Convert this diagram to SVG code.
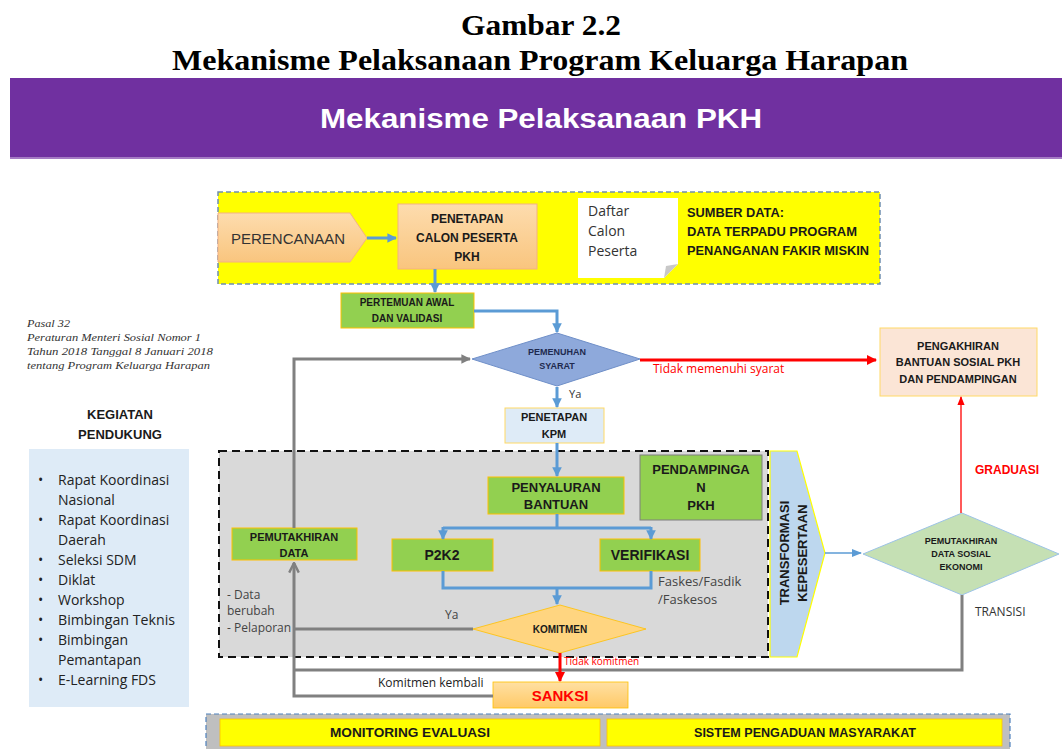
<svg xmlns="http://www.w3.org/2000/svg" width="1062" height="749" viewBox="0 0 1062 749">
<defs>
<style>
.t{font-family:"Liberation Sans",Arial,sans-serif;}
.b{font-family:"Liberation Sans",Arial,sans-serif;font-weight:bold;fill:#1a1a1a;}
.n{font-family:"Open Sans","Liberation Sans",sans-serif;fill:#333;}
.it{font-family:"Liberation Serif",serif;font-style:italic;font-size:11px;fill:#333;}
.red{fill:#FF0000;}
.green{fill:#92D050;stroke:#FFC000;stroke-width:1;}
.blue{stroke:#5B9BD5;stroke-width:3;fill:none;}
.grey{stroke:#808080;stroke-width:3;fill:none;}
</style>
<marker id="ab" viewBox="0 0 10 10" refX="9" refY="5" markerWidth="3.2" markerHeight="3.2" orient="auto"><path d="M0,0 L10,5 L0,10 z" fill="#5B9BD5"/></marker>
<marker id="abt" viewBox="0 0 10 10" refX="9" refY="5" markerWidth="8" markerHeight="8" orient="auto"><path d="M0,1 L10,5 L0,9 z" fill="#5B9BD5"/></marker>
<marker id="ag" viewBox="0 0 10 10" refX="9" refY="5" markerWidth="3.2" markerHeight="3.2" orient="auto"><path d="M0,0 L10,5 L0,10 z" fill="#808080"/></marker>
<marker id="ago" viewBox="0 0 10 10" refX="9" refY="5" markerWidth="4" markerHeight="4" orient="auto"><path d="M1,1 L9,5 L1,9" fill="none" stroke="#808080" stroke-width="2"/></marker>
<marker id="ar" viewBox="0 0 10 10" refX="9" refY="5" markerWidth="3.4" markerHeight="3.4" orient="auto"><path d="M0,0 L10,5 L0,10 z" fill="#FF0000"/></marker>
<marker id="art" viewBox="0 0 10 10" refX="9" refY="5" markerWidth="7" markerHeight="7" orient="auto"><path d="M0,1 L10,5 L0,9 z" fill="#FF0000"/></marker>
<linearGradient id="og" x1="0" y1="0" x2="0" y2="1"><stop offset="0" stop-color="#FDDCAE"/><stop offset="1" stop-color="#F9C57E"/></linearGradient>
<linearGradient id="sg" x1="0" y1="0" x2="0" y2="1"><stop offset="0" stop-color="#FFE0A3"/><stop offset="1" stop-color="#FFC966"/></linearGradient>
</defs>
<rect width="1062" height="749" fill="#fff"/>

<g id="title">
<text x="541" y="35" text-anchor="middle" font-family="Liberation Serif,serif" font-weight="bold" font-size="30" fill="#000" textLength="160" lengthAdjust="spacingAndGlyphs">Gambar 2.2</text>
<text x="540" y="70" text-anchor="middle" font-family="Liberation Serif,serif" font-weight="bold" font-size="29" fill="#000" textLength="736" lengthAdjust="spacingAndGlyphs">Mekanisme Pelaksanaan Program Keluarga Harapan</text>
</g>
<g id="banner">
<rect x="10" y="78" width="1052" height="80" fill="#7030A0"/>
<rect x="10" y="157" width="1052" height="2" fill="#A57BC4"/>
<text x="541" y="128" text-anchor="middle" class="t" font-weight="bold" font-size="27" fill="#fff" textLength="442" lengthAdjust="spacingAndGlyphs">Mekanisme Pelaksanaan PKH</text>
</g>

<g id="sumber-area">
<rect x="218" y="192" width="662" height="92" fill="#FFFF00" stroke="#6F8FB0" stroke-width="1.5" stroke-dasharray="5,3"/>
</g>
<g id="perencanaan">
<path d="M218,213 L350,213 L367,238 L350,262 L218,262 z" fill="url(#og)" stroke="#F4B183" stroke-width="1"/>
<text x="231" y="244" class="t" font-size="15" fill="#333">PERENCANAAN</text>
</g>
<g id="penetapan-calon">
<rect x="398" y="204" width="139" height="65" fill="url(#og)" stroke="#F4B183"/>
<text x="467" y="223" text-anchor="middle" class="b" font-size="12">PENETAPAN</text>
<text x="467" y="242" text-anchor="middle" class="b" font-size="12">CALON PESERTA</text>
<text x="467" y="261" text-anchor="middle" class="b" font-size="12">PKH</text>
</g>
<g id="daftar">
<path d="M578,198 L678,198 L678,264 L664,278 L578,278 z" fill="#fff"/>
<path d="M678,264 L664,278 L666,266 z" fill="#C8C8C8"/>
<text x="588" y="216" class="n" font-size="14">Daftar</text>
<text x="588" y="236" class="n" font-size="14">Calon</text>
<text x="588" y="256" class="n" font-size="14">Peserta</text>
</g>
<g id="sumber-data">
<text x="687" y="217" class="b" font-size="12.5" textLength="97" lengthAdjust="spacingAndGlyphs">SUMBER DATA:</text>
<text x="687" y="236" class="b" font-size="12.5" textLength="170" lengthAdjust="spacingAndGlyphs">DATA TERPADU PROGRAM</text>
<text x="687" y="255" class="b" font-size="12.5" textLength="182" lengthAdjust="spacingAndGlyphs">PENANGANAN FAKIR MISKIN</text>
</g>

<g id="pertemuan">
<rect x="341" y="293" width="133" height="35" class="green"/>
<text x="407" y="306" text-anchor="middle" class="b" font-size="10">PERTEMUAN AWAL</text>
<text x="407" y="322" text-anchor="middle" class="b" font-size="10">DAN VALIDASI</text>
</g>
<g id="pemenuhan">
<path d="M557,333 L640,359 L557,386 L472,359 z" fill="#8EA9DB" stroke="#6F8FC8"/>
<text x="557" y="355" text-anchor="middle" class="b" font-size="9" style="fill:#1F2A4F">PEMENUHAN</text>
<text x="557" y="369" text-anchor="middle" class="b" font-size="9" style="fill:#1F2A4F">SYARAT</text>
</g>
<g id="pengakhiran">
<rect x="880" y="328" width="157" height="68" fill="#FBE5D6" stroke="#FFD966"/>
<text x="958" y="350" text-anchor="middle" class="b" font-size="11">PENGAKHIRAN</text>
<text x="958" y="366" text-anchor="middle" class="b" font-size="11">BANTUAN SOSIAL PKH</text>
<text x="958" y="383" text-anchor="middle" class="b" font-size="11">DAN PENDAMPINGAN</text>
</g>
<g id="penetapan-kpm">
<rect x="505" y="408" width="99" height="35" fill="#DEEBF7" stroke="#FFD966"/>
<text x="554" y="421" text-anchor="middle" class="b" font-size="11">PENETAPAN</text>
<text x="554" y="438" text-anchor="middle" class="b" font-size="11">KPM</text>
</g>

<g id="kegiatan">
<text x="27" y="327" class="it" textLength="43" lengthAdjust="spacingAndGlyphs">Pasal 32</text>
<text x="27" y="341" class="it" textLength="174" lengthAdjust="spacingAndGlyphs">Peraturan  Menteri Sosial Nomor 1</text>
<text x="27" y="355" class="it" textLength="186" lengthAdjust="spacingAndGlyphs">Tahun 2018 Tanggal  8 Januari 2018</text>
<text x="27" y="369" class="it" textLength="183" lengthAdjust="spacingAndGlyphs">tentang Program  Keluarga  Harapan</text>
<text x="120" y="419" text-anchor="middle" class="b" font-size="13">KEGIATAN</text>
<text x="120" y="439" text-anchor="middle" class="b" font-size="13">PENDUKUNG</text>
<rect x="29" y="449" width="160" height="258" fill="#DEEBF7"/>
<g class="n" font-size="14" style="fill:#222">
<text x="38" y="485">•</text><text x="58" y="485">Rapat Koordinasi</text>
<text x="58" y="505">Nasional</text>
<text x="38" y="525">•</text><text x="58" y="525">Rapat Koordinasi</text>
<text x="58" y="545">Daerah</text>
<text x="38" y="565">•</text><text x="58" y="565">Seleksi SDM</text>
<text x="38" y="585">•</text><text x="58" y="585">Diklat</text>
<text x="38" y="605">•</text><text x="58" y="605">Workshop</text>
<text x="38" y="625">•</text><text x="58" y="625" textLength="117" lengthAdjust="spacingAndGlyphs">Bimbingan Teknis</text>
<text x="38" y="645">•</text><text x="58" y="645">Bimbingan</text>
<text x="58" y="665">Pemantapan</text>
<text x="38" y="685">•</text><text x="58" y="685">E-Learning FDS</text>
</g>
</g>

<g id="proses-area">
<rect x="219" y="451" width="549" height="206" fill="#D9D9D9" stroke="#111" stroke-width="2" stroke-dasharray="8,5"/>
</g>
<g id="penyaluran">
<rect x="488" y="477" width="136" height="37" class="green"/>
<text x="556" y="492" text-anchor="middle" class="b" font-size="13">PENYALURAN</text>
<text x="556" y="509" text-anchor="middle" class="b" font-size="13">BANTUAN</text>
</g>
<g id="pendampingan">
<rect x="640" y="455" width="122" height="65" fill="#92D050" stroke="#7F7F7F"/>
<text x="701" y="474" text-anchor="middle" class="b" font-size="13">PENDAMPINGA</text>
<text x="701" y="492" text-anchor="middle" class="b" font-size="13">N</text>
<text x="701" y="510" text-anchor="middle" class="b" font-size="13">PKH</text>
</g>
<g id="p2k2">
<rect x="392" y="539" width="101" height="32" class="green"/>
<text x="442" y="560" text-anchor="middle" class="b" font-size="14">P2K2</text>
</g>
<g id="verifikasi">
<rect x="600" y="539" width="100" height="32" class="green"/>
<text x="650" y="560" text-anchor="middle" class="b" font-size="14">VERIFIKASI</text>
</g>
<g id="pemutakhiran-data">
<rect x="232" y="528" width="125" height="32" class="green"/>
<text x="294" y="541" text-anchor="middle" class="b" font-size="11">PEMUTAKHIRAN</text>
<text x="294" y="557" text-anchor="middle" class="b" font-size="11">DATA</text>
</g>
<g id="komitmen">
<path d="M560,605 L646,629 L560,653 L473,629 z" fill="#FFD580" stroke="#FFC000" stroke-width="0.8"/>
<text x="560" y="633" text-anchor="middle" class="b" font-size="10">KOMITMEN</text>
</g>
<g id="sanksi">
<rect x="493" y="682" width="135" height="26" fill="url(#sg)" stroke="#FFC000" stroke-width="0.8"/>
<text x="560" y="701" text-anchor="middle" class="t red" font-weight="bold" font-size="15">SANKSI</text>
</g>
<g id="transformasi">
<path d="M770,451 L797,451 L825,553 L797,657 L770,657 z" fill="#BDD7EE" stroke="#FFFF00" stroke-width="1.2"/>
<text transform="translate(789,553) rotate(-90)" text-anchor="middle" class="b" font-size="13">TRANSFORMASI</text>
<text transform="translate(807,553) rotate(-90)" text-anchor="middle" class="b" font-size="13">KEPESERTAAN</text>
</g>
<g id="pemutakhiran-sosial">
<path d="M962,513 L1059,554 L962,595 L863,554 z" fill="#C5E0B4" stroke="#9DC3E6"/>
<text x="961" y="544" text-anchor="middle" class="b" font-size="9">PEMUTAKHIRAN</text>
<text x="961" y="557" text-anchor="middle" class="b" font-size="9">DATA SOSIAL</text>
<text x="961" y="570" text-anchor="middle" class="b" font-size="9">EKONOMI</text>
</g>

<g id="bottom">
<rect x="206" y="714" width="804" height="40" fill="#BFBFBF" stroke="#4F81BD" stroke-width="1.2" stroke-dasharray="5,3"/>
<rect x="220" y="719" width="380" height="27" fill="#FFFF00" stroke="#FFC000" stroke-width="0.8"/>
<rect x="607" y="719" width="395" height="27" fill="#FFFF00" stroke="#FFC000" stroke-width="0.8"/>
<text x="410" y="737" text-anchor="middle" class="b" font-size="12" textLength="160" lengthAdjust="spacingAndGlyphs">MONITORING EVALUASI</text>
<text x="805" y="737" text-anchor="middle" class="b" font-size="12" textLength="222" lengthAdjust="spacingAndGlyphs">SISTEM PENGADUAN MASYARAKAT</text>
</g>

<g id="connectors">
<line x1="367" y1="238" x2="396" y2="238" class="blue" marker-end="url(#ab)"/>
<line x1="435" y1="269" x2="435" y2="292" class="blue" marker-end="url(#ab)"/>
<path d="M474,311 L557,311 L557,332" class="blue" marker-end="url(#ab)"/>
<line x1="640" y1="360" x2="876" y2="360" stroke="#FF0000" stroke-width="3" marker-end="url(#ar)"/>
<line x1="557" y1="387" x2="557" y2="407" class="blue" marker-end="url(#ab)"/>
<line x1="557" y1="443" x2="557" y2="476" class="blue" marker-end="url(#ab)"/>
<path d="M557,514 L557,528 M443,528 L651,528" class="blue"/>
<line x1="443" y1="527" x2="443" y2="539" class="blue" marker-end="url(#ab)"/>
<line x1="651" y1="527" x2="651" y2="539" class="blue" marker-end="url(#ab)"/>
<path d="M443,571 L443,588 L651,588 L651,571" class="blue"/>
<line x1="557" y1="588" x2="557" y2="604" class="blue" marker-end="url(#ab)"/>
<line x1="473" y1="629" x2="295" y2="629" class="grey"/>
<path d="M294,528 L294,359 L470,359" class="grey" marker-end="url(#ag)"/>
<path d="M493,696 L294,696 L294,563" class="grey" marker-end="url(#ago)"/>
<path d="M962,595 L962,670 L294,670" class="grey"/>
<line x1="560" y1="653" x2="560" y2="681" stroke="#FF0000" stroke-width="3" marker-end="url(#ar)"/>
<line x1="825" y1="553" x2="861" y2="553" stroke="#5B9BD5" stroke-width="1.3" marker-end="url(#abt)"/>
<line x1="961" y1="513" x2="961" y2="397" stroke="#FF0000" stroke-width="1.3" marker-end="url(#art)"/>
</g>

<g id="labels">
<text x="653" y="373" class="n red" font-size="12">Tidak memenuhi syarat</text>
<text x="569" y="398" class="n" font-size="11">Ya</text>
<text x="658" y="586" class="n" font-size="13" style="fill:#444">Faskes/Fasdik</text>
<text x="658" y="604" class="n" font-size="13" style="fill:#444">/Faskesos</text>
<text x="227" y="599" class="n" font-size="12" style="fill:#444">- Data</text>
<text x="227" y="615" class="n" font-size="12" style="fill:#444">berubah</text>
<text x="227" y="632" class="n" font-size="12" style="fill:#444">- Pelaporan</text>
<text x="445" y="619" class="n" font-size="12" style="fill:#444">Ya</text>
<text x="564" y="665" class="n red" font-size="10">Tidak komitmen</text>
<text x="378" y="687" class="n" font-size="12" style="fill:#222">Komitmen kembali</text>
<text x="975" y="474" class="t red" font-weight="bold" font-size="12">GRADUASI</text>
<text x="975" y="616" class="n" font-size="12">TRANSISI</text>
</g>
</svg>
